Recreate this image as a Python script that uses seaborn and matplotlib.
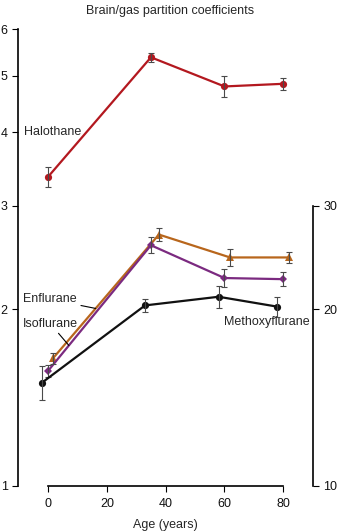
import numpy as np
import pandas as pd
import matplotlib
matplotlib.use("Agg")
import matplotlib.pyplot as plt
import seaborn as sns
from matplotlib.ticker import FixedLocator, FixedFormatter, NullLocator

sns.set_style("ticks")
plt.rcParams['font.family'] = ['Liberation Sans', 'DejaVu Sans']
FS = 9

# Group ages (years); series are staggered slightly so error bars do not overlap
halothane_age = [0, 35, 60, 80]
halothane = [3.36, 5.37, 4.79, 4.84]
halothane_err = [0.13, 0.10, 0.20, 0.12]

enflurane_age = [1.7, 37.7, 61.9, 81.9]
enflurane = [1.65, 2.68, 2.45, 2.45]
enflurane_err = [0.035, 0.07, 0.08, 0.05]

isoflurane_age = [0, 35, 60, 80]
isoflurane = [1.57, 2.57, 2.26, 2.25]
isoflurane_err = [0.035, 0.08, 0.08, 0.06]

# Methoxyflurane is read on the right-hand axis
methoxy_age = [-2, 33, 58, 78]
methoxyflurane = [15.0, 20.3, 21.0, 20.2]
methoxy_err = [1.0, 0.5, 0.9, 0.8]

left_ticks = [1, 2, 3, 4, 5, 6]
right_ticks = [10, 20, 30]
x_ticks = [0, 20, 40, 60, 80]

RED = "#b3181f"
ORANGE = "#b8661c"
PURPLE = "#7b2a80"
BLACK = "#111111"
ERR = "#4a4a4a"

fig = plt.figure(figsize=(3.39, 5.31), dpi=100)
ax = fig.add_axes([18 / 339, 1 - 486 / 531, 295 / 339, 457 / 531])
ax2 = ax.twinx()

ax.set_yscale("log")
ax2.set_yscale("log")
ax.set_ylim(1, 6)
ax2.set_ylim(10, 60)
ax.set_xlim(-10.2, 90.1)


def draw(axis, age, vals, errs, color, marker, ms):
    sns.lineplot(x=age, y=vals, ax=axis, color=color, linewidth=1.6,
                 marker=marker, markersize=ms, markeredgecolor=color,
                 markeredgewidth=0, sort=False, zorder=2)
    axis.errorbar(age, vals, yerr=errs, fmt="none", ecolor=ERR,
                  elinewidth=0.8, capsize=2.2, capthick=0.8, zorder=3)


draw(ax, halothane_age, halothane, halothane_err, RED, "o", 5.2)
draw(ax, enflurane_age, enflurane, enflurane_err, ORANGE, "^", 5.4)
draw(ax, isoflurane_age, isoflurane, isoflurane_err, PURPLE, "D", 4.0)
draw(ax2, methoxy_age, methoxyflurane, methoxy_err, BLACK, "o", 5.2)

# Axis styling
for a in (ax, ax2):
    a.yaxis.set_minor_locator(NullLocator())
    a.spines["top"].set_visible(False)
ax.spines["right"].set_visible(False)
ax2.spines["left"].set_visible(False)
ax2.spines["bottom"].set_visible(False)

ax.spines["left"].set_bounds(1, 6)
ax.spines["bottom"].set_bounds(0, 80)
ax2.spines["right"].set_bounds(10, 30)
for sp in (ax.spines["left"], ax.spines["bottom"], ax2.spines["right"]):
    sp.set_linewidth(1.2)
    sp.set_color("black")

ax.yaxis.set_major_locator(FixedLocator(left_ticks))
ax.yaxis.set_major_formatter(FixedFormatter([str(t) for t in left_ticks]))
ax2.yaxis.set_major_locator(FixedLocator(right_ticks))
ax2.yaxis.set_major_formatter(FixedFormatter([str(t) for t in right_ticks]))
ax.xaxis.set_major_locator(FixedLocator(x_ticks))

for a in (ax, ax2):
    a.tick_params(axis="y", which="major", length=4.5, width=0.8,
                  color="black", labelsize=FS, pad=3.0, labelcolor="#111111")
ax.tick_params(axis="x", which="major", length=4.5, width=0.8,
               color="black", labelsize=FS, pad=4.0, labelcolor="#111111")
ax.set_xlabel("Age (years)", fontsize=FS, labelpad=6.5)
ax.set_ylabel("")
ax2.set_ylabel("")

fig.text(170 / 339, 1 - 11 / 531, "Brain/gas partition coefficients",
         ha="center", va="center", fontsize=FS)

# Series labels
ax.text(-8.3, 4.0, "Halothane", ha="left", va="center", fontsize=FS)
ax2.text(89.0, 19.0, "Methoxyflurane", ha="right", va="center", fontsize=FS)


def on_line(age, vals, at):
    return 10 ** np.interp(at, age, np.log10(vals))


tgt = 16.2
ax.annotate("Enflurane", xy=(tgt, on_line(enflurane_age, enflurane, tgt)),
            xytext=(-8.6, 2.08), ha="left", va="center", fontsize=FS,
            arrowprops=dict(arrowstyle="-", color="black", lw=0.8,
                            shrinkA=1, shrinkB=0))
tgt = 7.1
ax.annotate("Isoflurane", xy=(tgt, on_line(isoflurane_age, isoflurane, tgt)),
            xytext=(-8.6, 1.887), ha="left", va="center", fontsize=FS,
            arrowprops=dict(arrowstyle="-", color="black", lw=0.8,
                            shrinkA=0, shrinkB=0, relpos=(0.6, 0.0)))

fig.savefig("out.png", dpi=100, facecolor="white")
